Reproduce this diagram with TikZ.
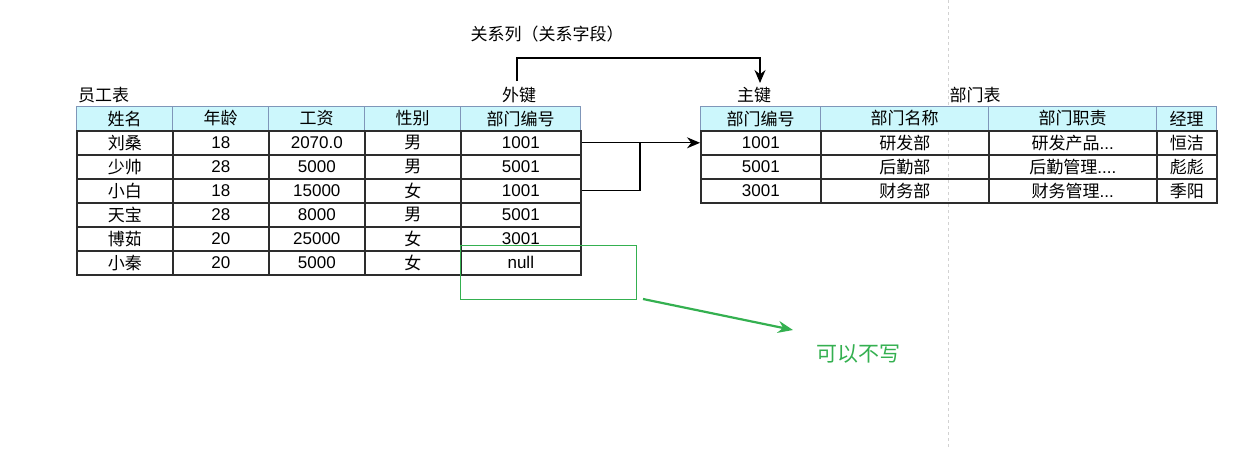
\documentclass[tikz,border=0pt]{standalone}
\usepackage{fontspec}
\setmainfont{Noto Sans CJK SC}
\newfontfamily\lat{Liberation Sans}
\usetikzlibrary{arrows.meta}
\definecolor{hdr}{RGB}{204,247,252}
\definecolor{hdrline}{RGB}{127,150,185}
\definecolor{bodyline}{RGB}{45,45,45}
\definecolor{grn}{RGB}{52,176,80}
\newcommand\dthree{{\lat...}}
\newcommand\dfour{{\lat....}}
\begin{document}
\begin{tikzpicture}[x=1pt,y=-1pt,
 hcell/.style={draw=hdrline, line width=1pt, fill=hdr, minimum height=24pt, inner sep=0pt, font=\fontsize{17}{19}\selectfont, anchor=north west},
 bcell/.style={draw=bodyline, line width=1.6pt, minimum height=24pt, inner sep=0pt, font=\fontsize{17}{19}\selectfont, anchor=north west},
 lbl/.style={font=\fontsize{17}{19}\selectfont, inner sep=0pt},
 conn/.style={line width=1.2pt, black},
 tip/.style={-{Stealth[length=13pt,width=11pt]}}
]
\useasboundingbox (0,0) rectangle (1244,448);
\fill[white] (0,0) rectangle (1244,448);
\draw[gray!35, dashed, line width=0.8pt] (948,0) -- (948,448);

% labels
\node[lbl, anchor=west] (t1) at (78,95) {员工表};
\node[lbl] (fk) at (519,95) {外键};
\node[lbl] (pk) at (754,95) {主键};
\node[lbl] (t2) at (975,95) {部门表};
\node[lbl] (rel) at (547,34) {关系列（关系字段）};

% employee table
\foreach \x/\w/\t [count=\c] in {76/96/姓名,172/96/年龄,268/96/工资,364/96/性别,460/120/部门编号}
  \node[hcell, minimum width=\w pt] (eh\c) at (\x,106) {\t};
\foreach \r/\a/\b/\cc/\d/\e in {1/刘桑/18/2070.0/男/1001, 2/少帅/28/5000/男/5001, 3/小白/18/15000/女/1001, 4/天宝/28/8000/男/5001, 5/博茹/20/25000/女/3001, 6/小秦/20/5000/女/null} {
  \node[bcell, minimum width=96pt] (e\r-1) at (76,{106+24*\r}) {\a};
  \node[bcell, minimum width=96pt] (e\r-2) at (172,{106+24*\r}) {\lat\b};
  \node[bcell, minimum width=96pt] (e\r-3) at (268,{106+24*\r}) {\lat\cc};
  \node[bcell, minimum width=96pt] (e\r-4) at (364,{106+24*\r}) {\d};
  \node[bcell, minimum width=120pt] (e\r-5) at (460,{106+24*\r}) {\lat\e};
}

% department table
\foreach \x/\w/\t [count=\c] in {700/120/部门编号,820/168/部门名称,988/168/部门职责,1156/60/经理}
  \node[hcell, minimum width=\w pt] (dh\c) at (\x,106) {\t};
\foreach \r/\a/\b/\cc/\d in {1/1001/研发部/研发产品\dthree/恒洁, 2/5001/后勤部/后勤管理\dfour/彪彪, 3/3001/财务部/财务管理\dthree/季阳} {
  \node[bcell, minimum width=120pt] (d\r-1) at (700,{106+24*\r}) {\lat\a};
  \node[bcell, minimum width=168pt] (d\r-2) at (820,{106+24*\r}) {\b};
  \node[bcell, minimum width=168pt] (d\r-3) at (988,{106+24*\r}) {\cc};
  \node[bcell, minimum width=60pt] (d\r-4) at (1156,{106+24*\r}) {\d};
}

% relation connector
\coordinate (c0) at (517,81);
\coordinate (c2) at (760,58);
\coordinate (pkt) at (760,83);
\draw[conn,tip] (c0) |- (c2) -- (pkt);

% foreign key connectors
\coordinate (j) at (640,142);
\draw[conn] (e3-5.east) -| (j);
\draw[conn,tip] (e1-5.east) -- (d1-1.west);

% green note
\node[draw=grn, line width=1pt, minimum width=176pt, minimum height=54pt, anchor=north west, inner sep=0pt] (gbox) at (460,245) {};
\node[text=grn, font=\fontsize{21}{23}\selectfont, inner sep=0pt] (note) at (858,354) {可以不写};
\coordinate (ga) at (643,299);
\coordinate (gb) at (793,330);
\draw[grn, line width=2.2pt, -{Stealth[length=15pt,width=12pt]}] (ga) -- (gb);
\end{tikzpicture}
\end{document}
